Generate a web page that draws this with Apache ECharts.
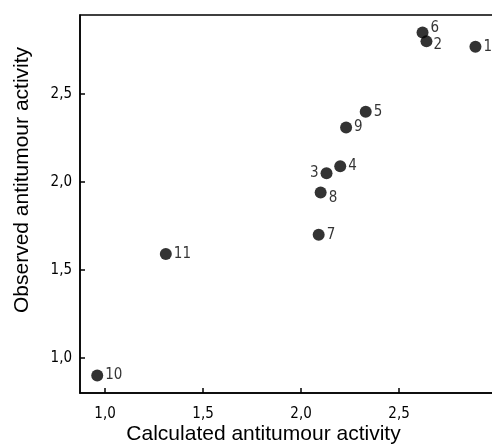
<!DOCTYPE html>
<html><head><meta charset="utf-8">
<script src="https://cdn.jsdelivr.net/npm/echarts@6/dist/echarts.min.js"></script>
<style>html,body{margin:0;padding:0;background:#fff}#c{width:492px;height:445px}</style>
</head><body><div id="c"></div>
<script>
const compoundIds = ['1','2','3','4','5','6','7','8','9','10','11'];
const calculated = [2.89, 2.64, 2.13, 2.20, 2.33, 2.62, 2.09, 2.10, 2.23, 0.96, 1.31];
const observed   = [2.77, 2.80, 2.05, 2.09, 2.40, 2.85, 1.70, 1.94, 2.31, 0.90, 1.59];
const xTicks = [1.0, 1.5, 2.0, 2.5];
const yTicks = [1.0, 1.5, 2.0, 2.5];
const xTitle = 'Calculated antitumour activity';
const yTitle = 'Observed antitumour activity';

const labelPlace = {
  '3': {position: 'left', offset: [1, 0]},
  '6': {position: 'right', offset: [-1, -4]},
  '2': {position: 'right', offset: [-2, 4]},
  '8': {position: 'right', offset: [-1, 6]}
};
const fmt = v => v.toFixed(1).replace('.', ',');
const numFont = '"DejaVu Sans Condensed", "Liberation Sans Narrow", sans-serif';
const titleFont = '"Liberation Sans", Arial, sans-serif';

const data = compoundIds.map((id, i) => {
  const p = labelPlace[id] || {position: 'right', offset: [-1, 0]};
  return {value: [calculated[i], observed[i]], name: id,
    label: {position: p.position, offset: p.offset}};
});

const chart = echarts.init(document.getElementById('c'));
chart.setOption({
  animation: false,
  grid: {left: 80, top: 15, width: 417, height: 378, outerBoundsMode: 'none', containLabel: false,
         show: true, borderColor: '#000', borderWidth: 1.5, backgroundColor: '#fff'},
  xAxis: {
    type: 'value', min: 0.872, max: 3.0,
    name: xTitle, nameLocation: 'middle', nameGap: 31, nameMoveOverlap: false,
    nameTextStyle: {fontFamily: titleFont, fontSize: 21, color: '#000', padding: [0, 50, 0, 0]},
    axisLine: {show: true, onZero: false, lineStyle: {color: '#000', width: 1.5}},
    axisTick: {show: true, inside: true, length: 5, customValues: xTicks, lineStyle: {color: '#000', width: 1.5}},
    axisLabel: {customValues: xTicks, formatter: fmt, margin: 14, fontFamily: numFont, fontSize: 15, color: '#000'},
    splitLine: {show: false}
  },
  yAxis: {
    type: 'value', min: 0.8, max: 2.95,
    name: yTitle, nameLocation: 'middle', nameGap: 47, nameMoveOverlap: false,
    nameTextStyle: {fontFamily: titleFont, fontSize: 21, color: '#000', padding: [0, 0, 0, 48]},
    axisLine: {show: true, onZero: false, lineStyle: {color: '#000', width: 1.5}},
    axisTick: {show: true, inside: true, length: 5, customValues: yTicks, lineStyle: {color: '#000', width: 1.5}},
    axisLabel: {customValues: yTicks, formatter: fmt, margin: 8, fontFamily: numFont, fontSize: 15, color: '#000'},
    splitLine: {show: false}
  },
  series: [{
    type: 'scatter', symbol: 'circle', symbolSize: 12,
    itemStyle: {color: '#000'},
    label: {show: true, formatter: '{b}', fontFamily: numFont, fontSize: 15, color: '#000', distance: 3},
    data: data
  }]
});
</script></body></html>
